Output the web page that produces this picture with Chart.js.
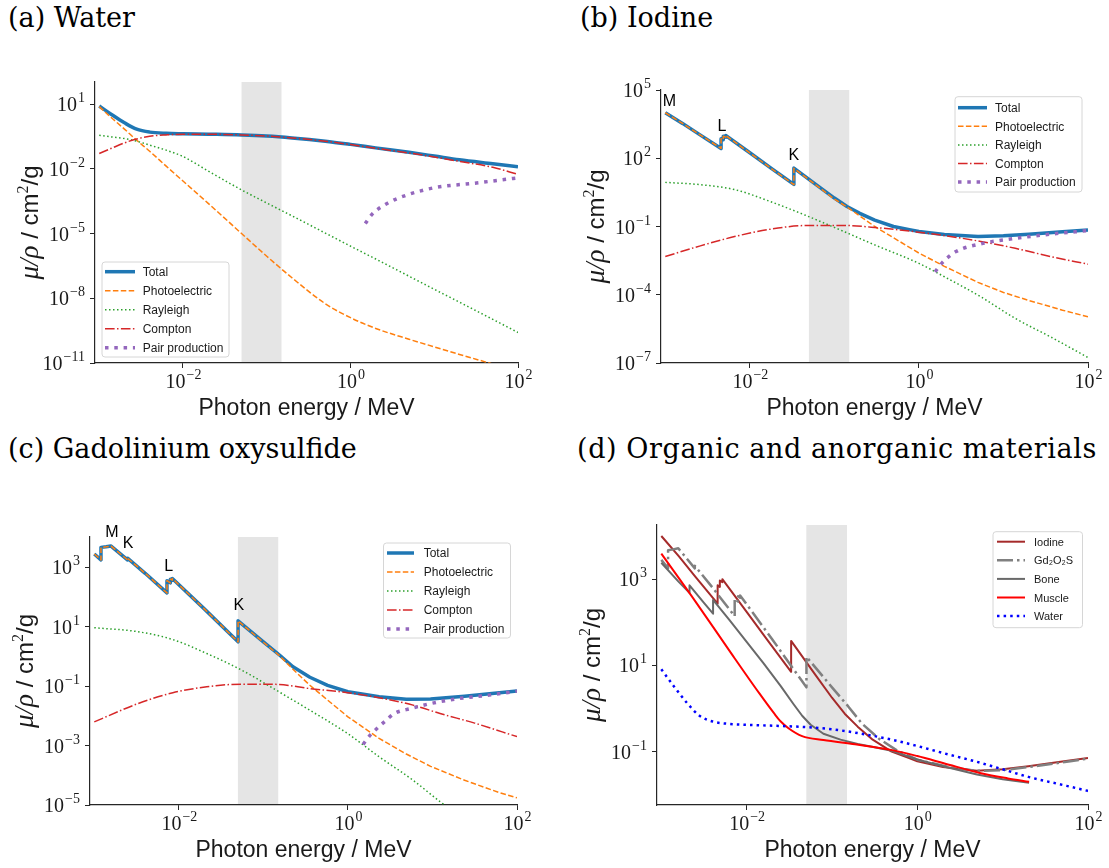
<!DOCTYPE html>
<html>
<head>
<meta charset="utf-8">
<script src="https://cdn.jsdelivr.net/npm/chart.js@4.4.0/dist/chart.umd.min.js"></script>
<style>
  body { margin: 0; background: #fff; width: 1109px; height: 868px; position: relative; overflow: hidden; }
  .panel { position: absolute; }
  .ptitle { position: absolute; font-family: "DejaVu Serif"; font-size: 27px; line-height: 27px; color: #000; white-space: nowrap; }
</style>
</head>
<body>
<div class="ptitle" style="left:8px;top:4px">(a) Water</div>
<div class="ptitle" style="left:580px;top:4px">(b) Iodine</div>
<div class="ptitle" style="left:8px;top:435px">(c) Gadolinium oxysulfide</div>
<div class="ptitle" style="left:577px;top:435px;letter-spacing:0.6px">(d) Organic and anorganic materials</div>

<div class="panel" style="left:0;top:40px;width:555px;height:395px"><canvas id="chartA"></canvas></div>
<div class="panel" style="left:555px;top:40px;width:554px;height:395px"><canvas id="chartB"></canvas></div>
<div class="panel" style="left:0;top:470px;width:555px;height:398px"><canvas id="chartC"></canvas></div>
<div class="panel" style="left:555px;top:470px;width:554px;height:398px"><canvas id="chartD"></canvas></div>

<script>
// x axis (photon energy, MeV)
const xMin = 0.00089;
const xMax = 100;
const xTicks = [0.01, 1, 100];
const bandE = [0.05, 0.15];

// (a) water
const waterE = [0.001, 0.0014, 0.002, 0.0028, 0.004, 0.0063, 0.01, 0.02, 0.05, 0.1, 0.2, 0.5, 1, 2, 5, 10, 20, 50, 100];
const waterTotal = [8.1, 3.3, 1.35, 0.68, 0.50, 0.44, 0.42, 0.40, 0.37, 0.33, 0.27, 0.19, 0.135, 0.093, 0.058, 0.039, 0.026, 0.017, 0.0123];
const waterPhoto = [7.6, 2.3, 0.69, 0.21, 0.065, 0.0132, 0.0027, 2.5e-4, 1.0e-5, 8.9e-7, 8.9e-8, 5.6e-9, 1.26e-9, 4.0e-10, 1.26e-10, 5.6e-11, 2.5e-11, 8.9e-12, 4.0e-12];
const waterRayleigh = [0.36, 0.30, 0.25, 0.19, 0.125, 0.073, 0.037, 0.0079, 1.05e-3, 2.6e-4, 6.6e-5, 1.05e-5, 2.6e-6, 6.6e-7, 1.05e-7, 2.6e-8, 6.6e-9, 1.05e-9, 2.6e-10];
const waterCompton = [0.051, 0.089, 0.158, 0.24, 0.32, 0.37, 0.40, 0.40, 0.37, 0.33, 0.27, 0.19, 0.132, 0.089, 0.054, 0.035, 0.022, 0.0117, 0.0055];
const waterPairE = [1.5, 1.8, 2.8, 4.6, 10, 32, 100];
const waterPair = [2.9e-5, 7.6e-5, 2.6e-4, 5.9e-4, 1.32e-3, 2.2e-3, 3.8e-3];

// (b) iodine
const iodE = [0.001, 0.0016, 0.0025, 0.00457, 0.00457, 0.00485, 0.00485, 0.00519, 0.00519, 0.01, 0.0178, 0.0332, 0.0332, 0.063, 0.1, 0.141, 0.2, 0.3, 0.5, 0.8, 1, 2, 5, 10, 20, 50, 100];
const iodTotal = [1.0e4, 3400, 1150, 270, 720, 660, 930, 850, 1000, 174, 37, 7.1, 37, 6.3, 1.78, 0.76, 0.38, 0.19, 0.1, 0.071, 0.060, 0.044, 0.036, 0.039, 0.046, 0.059, 0.071];
const iodPhoto = [1.0e4, 3400, 1150, 270, 720, 660, 930, 850, 1000, 172, 36, 6.9, 36, 6.0, 1.6, 0.72, 0.29, 0.1, 0.032, 0.0112, 0.0068, 0.00178, 3.5e-4, 1.26e-4, 5.6e-5, 2.1e-5, 1.07e-5];
const iodSmoothE = [0.001, 0.0026, 0.0066, 0.0174, 0.0447, 0.117, 0.3, 1, 2, 5.4, 13.8, 36, 100];
const iodRayleigh = [8.7, 6.9, 4.2, 1.26, 0.32, 0.071, 0.0155, 0.0024, 6.2e-4, 8.1e-5, 9.1e-6, 1.41e-6, 1.74e-7];
const iodCompton = [0.0048, 0.0141, 0.036, 0.076, 0.11, 0.112, 0.091, 0.056, 0.040, 0.022, 0.011, 0.0048, 0.0022];
const iodPairE = [1.55, 1.86, 2.75, 5.4, 11.5, 36, 100];
const iodPair = [0.00102, 0.0024, 0.0079, 0.0174, 0.0275, 0.046, 0.066];
const iodNotes = [['M', 0.00112, 3.2e4], ['L', 0.00468, 2450], ['K', 0.0331, 132]];

// (c) gadolinium oxysulfide
const gdE = [0.001, 0.0012, 0.0012, 0.00138, 0.00158, 0.00247, 0.00247, 0.004, 0.00724, 0.00724, 0.00794, 0.00794, 0.00838, 0.00838, 0.02, 0.0502, 0.0502, 0.1, 0.155, 0.224, 0.355, 0.575, 1, 2.34, 4.9, 9.5, 24, 62, 100];
const gdTotal = [2800, 1780, 4700, 4900, 5200, 1780, 2040, 630, 138, 355, 300, 400, 370, 420, 40, 3.1, 15.8, 3.1, 1.12, 0.45, 0.2, 0.107, 0.065, 0.044, 0.036, 0.037, 0.046, 0.06, 0.069];
const gdPhoto = [2800, 1780, 4700, 4900, 5200, 1780, 2040, 630, 138, 355, 300, 400, 370, 420, 40, 3.1, 15.8, 3.0, 1.07, 0.37, 0.107, 0.034, 0.0093, 0.00174, 5.2e-4, 2.0e-4, 6.8e-5, 2.6e-5, 1.74e-5];
const gdSmoothE = [0.001, 0.0033, 0.0085, 0.0214, 0.055, 0.141, 0.355, 1, 2.34, 5.9, 12.3, 31.6, 100];
const gdRayleigh = [9.3, 6.8, 3.7, 1.26, 0.35, 0.074, 0.0155, 0.0025, 4.2e-4, 6.8e-5, 1.3e-5, 1.9e-6, 1.9e-7];
const gdCompton = [0.0063, 0.026, 0.060, 0.095, 0.117, 0.115, 0.083, 0.060, 0.041, 0.023, 0.012, 0.0057, 0.002];
const gdPairE = [1.51, 1.82, 2.19, 2.7, 3.55, 5.6, 9.5, 20, 47, 100];
const gdPair = [0.0011, 0.0022, 0.0037, 0.0063, 0.012, 0.0178, 0.026, 0.038, 0.05, 0.068];
const gdNotes = [['M', 0.00162, 1.5e4], ['K', 0.00251, 6200], ['L', 0.00759, 1100], ['K', 0.0513, 50]];

// (d) materials
const boneE = [0.001, 0.00158, 0.00214, 0.00214, 0.00316, 0.00404, 0.00404, 0.0063, 0.01, 0.0158, 0.0251, 0.0355, 0.0447, 0.0562, 0.0794, 0.126, 0.2, 0.316, 0.5, 1, 2, 5, 10, 20.4];
const bone = [2400, 890, 480, 720, 280, 158, 330, 112, 35, 11.2, 3.3, 1.26, 0.68, 0.42, 0.26, 0.19, 0.151, 0.126, 0.105, 0.066, 0.046, 0.0295, 0.0229, 0.019];
const muscleE = [0.001, 0.0026, 0.0066, 0.0141, 0.0209, 0.0251, 0.0309, 0.0447, 0.0794, 0.186, 0.49, 1, 2.04, 5.4, 11.5, 20.4];
const muscle = [3900, 275, 19, 2.24, 0.78, 0.5, 0.35, 0.23, 0.186, 0.148, 0.11, 0.079, 0.054, 0.032, 0.024, 0.02];

const DASH = [5.5, 2.4];
const DOT = [1.5, 2.5];
const DASHDOT = [9.6, 2.4, 1.5, 2.4];

function series(label, e, v, color, width, dash, smooth) {
  return { label, e, v, color, width, dash, smooth };
}

function componentSeries(e, total, photo, smE, ray, comp, pE, pair, smoothAll) {
  return [
    series('Total', e, total, '#1f77b4', 3.5, [], smoothAll),
    series('Photoelectric', e, photo, '#ff7f0e', 1.5, DASH, smoothAll),
    series('Rayleigh', smE, ray, '#2ca02c', 1.5, DOT, true),
    series('Compton', smE, comp, '#d62728', 1.5, DASHDOT, true),
    series('Pair production', pE, pair, '#9467bd', 3.5, [3.5, 5.8], true)
  ];
}

function powLabel(ctx, v, x, y, align) {
  const e = Math.round(Math.log10(v));
  const ex = e < 0 ? '\u2212' + (-e) : String(e);
  ctx.font = '20px "Liberation Serif"';
  const wb = ctx.measureText('10').width;
  ctx.font = '14px "Liberation Serif"';
  const we = ctx.measureText(ex).width;
  const x0 = align === 'center' ? x - (wb + we) / 2 : x - wb - we - 1;
  ctx.font = '20px "Liberation Serif"';
  ctx.fillText('10', x0, y);
  ctx.font = '14px "Liberation Serif"';
  ctx.fillText(ex, x0 + wb + 1, y - 9);
}

const deco = {
  id: 'deco',
  beforeDraw(chart) {
    const { ctx, chartArea: a, scales: { x } } = chart;
    const x1 = x.getPixelForValue(bandE[0]);
    const x2 = x.getPixelForValue(bandE[1]);
    ctx.save();
    ctx.fillStyle = '#e5e5e5';
    ctx.fillRect(x1, a.top, x2 - x1, a.bottom - a.top);
    ctx.restore();
  },
  afterDraw(chart, args, o) {
    const { ctx, chartArea: a, scales: { x, y } } = chart;
    ctx.save();
    ctx.fillStyle = '#1a1a1a';
    ctx.textAlign = 'left';
    ctx.textBaseline = 'alphabetic';
    x.ticks.forEach(t => powLabel(ctx, t.value, x.getPixelForValue(t.value), a.bottom + 25, 'center'));
    y.ticks.forEach(t => powLabel(ctx, t.value, a.left - 10, y.getPixelForValue(t.value) + 7, 'right'));

    // axis titles
    ctx.font = '23px "Liberation Sans"';
    ctx.textAlign = 'center';
    ctx.fillText('Photon energy / MeV', (a.left + a.right) / 2, a.bottom + 52);

    const parts = [
      ['\u03bc/\u03c1', 'italic 27px "Liberation Serif"', 0],
      [' / cm', '24px "Liberation Sans"', 0],
      ['2', '16px "Liberation Serif"', -10],
      ['/g', '24px "Liberation Sans"', 0]
    ];
    let total = 0;
    parts.forEach(p => { ctx.font = p[1]; total += ctx.measureText(p[0]).width; });
    ctx.translate(a.left - 57, (a.top + a.bottom) / 2);
    ctx.rotate(-Math.PI / 2);
    ctx.textAlign = 'left';
    let cx = -total / 2;
    parts.forEach(p => { ctx.font = p[1]; ctx.fillText(p[0], cx, p[2]); cx += ctx.measureText(p[0]).width; });
    ctx.setTransform(1, 0, 0, 1, 0, 0);
    ctx.restore();

    // edge labels
    ctx.save();
    ctx.fillStyle = '#000';
    ctx.font = '16px "Liberation Sans"';
    ctx.textAlign = 'center';
    ctx.textBaseline = 'middle';
    (o.notes || []).forEach(n => ctx.fillText(n[0], x.getPixelForValue(n[1]), y.getPixelForValue(n[2])));
    ctx.restore();

    // legend
    const L = o.legend;
    ctx.save();
    ctx.beginPath();
    ctx.roundRect(L.x, L.y, L.w, L.h, 3);
    ctx.fillStyle = 'rgba(255,255,255,0.8)';
    ctx.fill();
    ctx.strokeStyle = '#d6d6d6';
    ctx.lineWidth = 1;
    ctx.stroke();
    chart.data.datasets.forEach((ds, i) => {
      const ry = L.row0 + i * L.step;
      ctx.beginPath();
      ctx.setLineDash(ds.borderDash || []);
      ctx.strokeStyle = ds.borderColor;
      ctx.lineWidth = ds.borderWidth;
      ctx.moveTo(L.s0, ry);
      ctx.lineTo(L.s1, ry);
      ctx.stroke();
      ctx.setLineDash([]);
      ctx.fillStyle = '#1a1a1a';
      ctx.font = L.font;
      ctx.textAlign = 'left';
      ctx.textBaseline = 'middle';
      ctx.fillText(ds.label, L.tx, ry + 1);
    });
    ctx.restore();
  }
};

function makePanel(id, cfg) {
  const axisGrid = { display: true, drawOnChartArea: false, drawTicks: true, tickLength: 5, color: '#262626', lineWidth: 1 };
  const axisBorder = { display: true, color: '#262626', width: 1.2 };
  new Chart(document.getElementById(id), {
    type: 'line',
    data: {
      datasets: cfg.series.map((s, i) => ({
        label: s.label,
        data: s.e.map((e, k) => ({ x: e, y: s.v[k] })),
        borderColor: s.color,
        borderWidth: s.width,
        borderDash: s.dash,
        borderCapStyle: 'butt',
        borderJoinStyle: 'round',
        pointRadius: 0,
        fill: false,
        tension: 0,
        cubicInterpolationMode: s.smooth ? 'monotone' : 'default',
        order: -i
      }))
    },
    options: {
      responsive: true,
      maintainAspectRatio: false,
      animation: false,
      layout: { padding: { left: 0, top: cfg.padTop, right: cfg.padRight, bottom: 0 } },
      scales: {
        x: {
          type: 'logarithmic', min: xMin, max: xMax,
          afterBuildTicks: s => { s.ticks = xTicks.map(v => ({ value: v })); },
          afterFit: s => { s.height = cfg.xHeight; },
          ticks: { display: false },
          grid: axisGrid, border: axisBorder
        },
        y: {
          type: 'logarithmic', min: cfg.yMin, max: cfg.yMax,
          afterBuildTicks: s => { s.ticks = cfg.yTicks.map(v => ({ value: v })); },
          afterFit: s => { s.width = cfg.yWidth; },
          ticks: { display: false },
          grid: axisGrid, border: axisBorder
        }
      },
      plugins: {
        legend: { display: false },
        tooltip: { enabled: false },
        deco: { legend: cfg.legend, notes: cfg.notes }
      }
    },
    plugins: [deco]
  });
}

makePanel('chartA', {
  series: componentSeries(waterE, waterTotal, waterPhoto, waterE, waterRayleigh, waterCompton, waterPairE, waterPair, true),
  padTop: 42, padRight: 37, yWidth: 95, xHeight: 72,
  yMin: 1e-11, yMax: 105, yTicks: [1e-11, 1e-8, 1e-5, 1e-2, 10],
  legend: { x: 102, y: 222, w: 127, h: 95, row0: 231.7, step: 19, s0: 105, s1: 135, tx: 142.7, font: '12px "Liberation Sans"' },
  notes: []
});

makePanel('chartB', {
  series: componentSeries(iodE, iodTotal, iodPhoto, iodSmoothE, iodRayleigh, iodCompton, iodPairE, iodPair, false),
  padTop: 50, padRight: 21, yWidth: 106, xHeight: 72,
  yMin: 1e-7, yMax: 1e5, yTicks: [1e-7, 1e-4, 1e-1, 1e2, 1e5],
  legend: { x: 400, y: 56.7, w: 127, h: 95.3, row0: 67.7, step: 18.6, s0: 403, s1: 432, tx: 440, font: '12px "Liberation Sans"' },
  notes: iodNotes
});

makePanel('chartC', {
  series: componentSeries(gdE, gdTotal, gdPhoto, gdSmoothE, gdRayleigh, gdCompton, gdPairE, gdPair, false),
  padTop: 67, padRight: 38, yWidth: 90, xHeight: 63,
  yMin: 1e-5, yMax: 1.05e4, yTicks: [1e-5, 1e-3, 1e-1, 10, 1e3],
  legend: { x: 383.5, y: 73, w: 127, h: 95, row0: 83, step: 19, s0: 387, s1: 414, tx: 423.7, font: '12px "Liberation Sans"' },
  notes: gdNotes
});

makePanel('chartD', {
  series: [
    series('Iodine', iodE, iodTotal, '#a52a2a', 2, [], false),
    series('Gd\u2082O\u2082S', gdE, gdTotal, '#808080', 2.5, [16, 4, 2.5, 4], false),
    series('Bone', boneE, bone, '#696969', 2, [], false),
    series('Muscle', muscleE, muscle, '#ff0000', 2, [], true),
    series('Water', waterE, waterTotal, '#0000ff', 2.5, [2.5, 4.1], true)
  ],
  padTop: 55, padRight: 21, yWidth: 102, xHeight: 63,
  yMin: 0.0058, yMax: 1.8e4, yTicks: [0.1, 10, 1000],
  legend: { x: 438, y: 61.7, w: 89.5, h: 96, row0: 71.7, step: 18.6, s0: 442, s1: 470, tx: 479, font: '11px "Liberation Sans"' },
  notes: []
});
</script>
</body>
</html>
